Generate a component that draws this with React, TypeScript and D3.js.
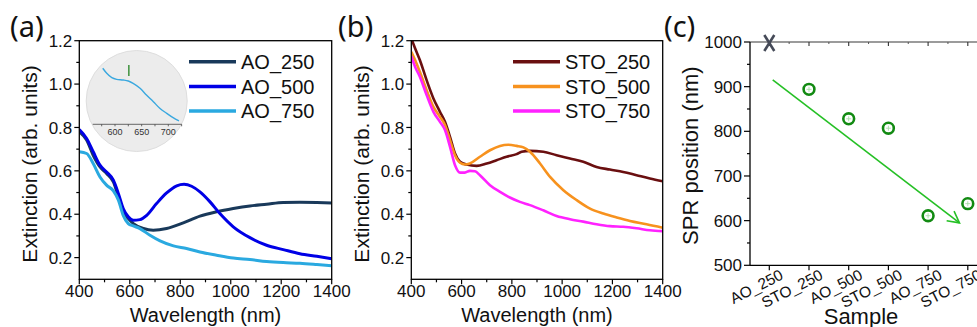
import React from 'react';
import * as d3 from 'd3';

const FONT = '"Liberation Sans", Arial, Helvetica, sans-serif';
const LABEL_FONT = '"Noto Sans", "Open Sans", sans-serif';

// ---------- Panel (a): AO samples ----------
const ao250Nm = [400, 429, 455, 482, 508, 535, 555, 574, 594, 614, 654, 693, 746, 812, 878, 944, 1010, 1076, 1142, 1208, 1274, 1341, 1400];
const ao250Ext = [0.78, 0.742, 0.672, 0.618, 0.588, 0.549, 0.48, 0.411, 0.38, 0.357, 0.334, 0.326, 0.334, 0.36, 0.391, 0.411, 0.426, 0.438, 0.446, 0.454, 0.455, 0.454, 0.452];

const ao500Nm = [400, 429, 455, 482, 508, 535, 555, 574, 594, 614, 640, 667, 706, 746, 786, 815, 845, 878, 918, 957, 1010, 1076, 1142, 1208, 1274, 1341, 1400];
const ao500Ext = [0.79, 0.749, 0.688, 0.626, 0.595, 0.557, 0.495, 0.426, 0.388, 0.372, 0.375, 0.395, 0.449, 0.498, 0.531, 0.538, 0.529, 0.503, 0.457, 0.403, 0.342, 0.292, 0.257, 0.237, 0.218, 0.206, 0.195];

const ao750Nm = [400, 429, 455, 482, 508, 535, 555, 574, 594, 614, 640, 680, 720, 773, 825, 878, 944, 1010, 1076, 1142, 1208, 1274, 1341, 1400];
const ao750Ext = [0.688, 0.68, 0.634, 0.572, 0.534, 0.508, 0.465, 0.395, 0.357, 0.346, 0.334, 0.303, 0.277, 0.254, 0.242, 0.226, 0.211, 0.198, 0.191, 0.182, 0.177, 0.174, 0.168, 0.162];

// Inset of panel (a)
const insetNm = [577, 584.5, 594, 603, 615.5, 625, 634, 647, 659, 672, 684, 697, 709, 720];
const insetExt = [0.3706, 0.3638, 0.3579, 0.3557, 0.3548, 0.3534, 0.3503, 0.3436, 0.3345, 0.3255, 0.3166, 0.3098, 0.3039, 0.2995];
const insetTickValues = [575, 600, 625, 650, 675, 700, 725];
const insetTickLabels = [600, 650, 700];
const insetMarkerNm = 626;

// ---------- Panel (b): STO samples ----------
const sto250Nm = [400, 415, 434, 461, 488, 514, 534, 554, 574, 594, 620, 660, 700, 739, 779, 819, 839, 872, 925, 978, 1031, 1084, 1137, 1190, 1243, 1296, 1349, 1400];
const sto250Ext = [1.21, 1.165, 1.111, 1.018, 0.934, 0.872, 0.826, 0.757, 0.68, 0.642, 0.629, 0.623, 0.634, 0.649, 0.665, 0.677, 0.688, 0.692, 0.688, 0.672, 0.657, 0.642, 0.618, 0.606, 0.595, 0.58, 0.565, 0.552];

const sto500Nm = [400, 415, 434, 461, 488, 514, 534, 554, 574, 594, 613, 633, 673, 713, 753, 786, 819, 846, 872, 912, 952, 1005, 1058, 1111, 1164, 1217, 1270, 1336, 1400];
const sto500Ext = [1.149, 1.111, 1.057, 0.972, 0.895, 0.849, 0.811, 0.742, 0.672, 0.637, 0.629, 0.634, 0.665, 0.695, 0.715, 0.72, 0.715, 0.708, 0.688, 0.634, 0.572, 0.511, 0.465, 0.426, 0.403, 0.385, 0.369, 0.354, 0.338];

const sto750Nm = [400, 415, 434, 461, 488, 514, 534, 554, 574, 594, 613, 633, 653, 673, 713, 753, 792, 832, 872, 925, 978, 1031, 1084, 1137, 1190, 1243, 1296, 1349, 1400];
const sto750Ext = [1.129, 1.08, 1.034, 0.949, 0.872, 0.826, 0.788, 0.711, 0.626, 0.592, 0.592, 0.6, 0.598, 0.58, 0.534, 0.503, 0.477, 0.457, 0.442, 0.418, 0.392, 0.377, 0.366, 0.354, 0.345, 0.342, 0.335, 0.326, 0.322];

// Axes for (a) & (b)
const extMajorTicks = [0.2, 0.4, 0.6, 0.8, 1.0, 1.2];
const extMinorTicks = [0.3, 0.5, 0.7, 0.9, 1.1];
const nmMajorTicks = [400, 600, 800, 1000, 1200, 1400];
const nmMinorTicks = [500, 700, 900, 1100, 1300];

// ---------- Panel (c) ----------
const samples = ['AO_250', 'STO_250', 'AO_500', 'STO_500', 'AO_750', 'STO_750'];
const sprPosition = [null, 894, 828, 807, 611, 638];
const sprOutOfRange = [1000, null, null, null, null, null];
const sprTicks = [500, 600, 700, 800, 900, 1000];
const sprMinorTicks = [550, 650, 750, 850, 950];
const trendArrow = [
  { i: 0.086, v: 915 },
  { i: 4.79, v: 595 },
];

const aoColors = ['#19395a', '#0000e6', '#2aa9e0'];
const stoColors = ['#6a0f10', '#f7921e', '#ff22ff'];

type Series = { name: string; nm: number[]; ext: number[]; color: string };

const aoSeries: Series[] = [
  { name: 'AO_250', nm: ao250Nm, ext: ao250Ext, color: aoColors[0] },
  { name: 'AO_500', nm: ao500Nm, ext: ao500Ext, color: aoColors[1] },
  { name: 'AO_750', nm: ao750Nm, ext: ao750Ext, color: aoColors[2] },
];
const stoSeries: Series[] = [
  { name: 'STO_250', nm: sto250Nm, ext: sto250Ext, color: stoColors[0] },
  { name: 'STO_500', nm: sto500Nm, ext: sto500Ext, color: stoColors[1] },
  { name: 'STO_750', nm: sto750Nm, ext: sto750Ext, color: stoColors[2] },
];

type PanelProps = {
  id: string;
  left: number;
  right: number;
  top: number;
  bottom: number;
  series: Series[];
  legendX: number;
  strokeW: number;
  label: string;
  labelX: number;
  yTitleX: number;
  inset?: boolean;
};

function Inset() {
  const cx = 136.7;
  const cy = 101;
  const r = 50.5;
  const x = d3.scaleLinear().domain([600, 700]).range([115, 168.3]);
  const y = d3.scaleLinear().domain([0.295, 0.39]).range([124.3, 53.9]);
  const line = d3
    .line<number>()
    .x((_, i) => x(insetNm[i]))
    .y((d) => y(d))
    .curve(d3.curveMonotoneX);
  const axisY = 124.3;
  return (
    <g>
      <circle cx={cx} cy={cy} r={r} fill="#ececec" stroke="#dedede" strokeWidth={1} />
      <line x1={92.7} x2={181.7} y1={axisY} y2={axisY} stroke="#444" strokeWidth={0.8} />
      {insetTickValues.map((t) => (
        <line key={t} x1={x(t)} x2={x(t)} y1={axisY} y2={axisY + 2} stroke="#444" strokeWidth={0.8} />
      ))}
      {insetTickLabels.map((t) => (
        <text key={t} x={x(t)} y={axisY + 11} fontSize={9} fill="#333" textAnchor="middle" fontFamily={FONT}>
          {t}
        </text>
      ))}
      <path d={line(insetExt) || ''} fill="none" stroke="#3aa8df" strokeWidth={1.4} />
      <line x1={x(insetMarkerNm)} x2={x(insetMarkerNm)} y1={65} y2={76} stroke="#2f8a2f" strokeWidth={1.4} />
    </g>
  );
}

function SpectrumPanel(p: PanelProps) {
  const x = d3.scaleLinear().domain([400, 1400]).range([p.left, p.right]);
  const y = d3.scaleLinear().domain([0.1, 1.2]).range([p.bottom, p.top]);
  const midX = (p.left + p.right) / 2;
  const midY = (p.top + p.bottom) / 2;
  return (
    <g>
      <defs>
        <clipPath id={p.id}>
          <rect x={p.left} y={p.top} width={p.right - p.left} height={p.bottom - p.top} />
        </clipPath>
      </defs>
      {p.inset && <Inset />}
      <g clipPath={`url(#${p.id})`}>
        {p.series.map((s) => {
          const line = d3
            .line<number>()
            .x((_, i) => x(s.nm[i]))
            .y((d) => y(d))
            .curve(d3.curveMonotoneX);
          return <path key={s.name} d={line(s.ext) || ''} fill="none" stroke={s.color} strokeWidth={p.strokeW} strokeLinejoin="round" />;
        })}
      </g>
      {/* frame */}
      <rect x={p.left} y={p.top} width={p.right - p.left} height={p.bottom - p.top} fill="none" stroke="#000" strokeWidth={1.3} />
      {/* y ticks */}
      {extMajorTicks.map((t) => (
        <g key={'ym' + t}>
          <line x1={p.left - 5} x2={p.left} y1={y(t)} y2={y(t)} stroke="#000" strokeWidth={1.2} />
          <text x={p.left - 7} y={y(t)} dy="0.36em" textAnchor="end" fontSize={17} fontFamily={FONT} fill="#111">
            {t.toFixed(1)}
          </text>
        </g>
      ))}
      {extMinorTicks.map((t) => (
        <line key={'yn' + t} x1={p.left - 3} x2={p.left} y1={y(t)} y2={y(t)} stroke="#000" strokeWidth={1.2} />
      ))}
      {nmMajorTicks.map((t) => (
        <g key={'xm' + t}>
          <line x1={x(t)} x2={x(t)} y1={p.bottom} y2={p.bottom + 5} stroke="#000" strokeWidth={1.2} />
          <text x={x(t)} y={297} textAnchor="middle" fontSize={17} fontFamily={FONT} fill="#111">
            {t}
          </text>
        </g>
      ))}
      {nmMinorTicks.map((t) => (
        <line key={'xn' + t} x1={x(t)} x2={x(t)} y1={p.bottom} y2={p.bottom + 3} stroke="#000" strokeWidth={1.2} />
      ))}
      {/* titles */}
      <text x={midX} y={322} textAnchor="middle" fontSize={20} fontFamily={FONT} fill="#111">
        Wavelength (nm)
      </text>
      <text
        transform={`translate(${p.yTitleX},${midY + 4}) rotate(-90)`}
        textAnchor="middle"
        fontSize={21}
        fontFamily={FONT}
        fill="#111"
      >
        Extinction (arb. units)
      </text>
      {/* legend */}
      {p.series.map((s, i) => (
        <g key={'lg' + s.name}>
          <line x1={p.legendX} x2={p.legendX + 47} y1={61.7 + i * 24.7} y2={61.7 + i * 24.7} stroke={s.color} strokeWidth={3.5} />
          <text x={p.legendX + 52} y={61.7 + i * 24.7 + 7.3} fontSize={20} fontFamily={FONT} fill="#111">
            {s.name}
          </text>
        </g>
      ))}
      <text x={p.labelX} y={37} fontSize={29} fontFamily={LABEL_FONT} fill="#111">
        {p.label}
      </text>
    </g>
  );
}

function SprPanel() {
  const left = 750;
  const right = 977;
  const x = d3.scaleLinear().domain([0, 5]).range([769.3, 967.8]);
  const y = d3.scaleLinear().domain([500, 1000]).range([265.3, 42]);
  const bottom = y(500);
  const top = y(1000);
  const halfSteps = [0.5, 1.5, 2.5, 3.5, 4.5];
  const a0 = trendArrow[0];
  const a1 = trendArrow[1];
  const x0 = x(a0.i);
  const y0 = y(a0.v);
  const x1 = x(a1.i);
  const y1 = y(a1.v);
  const ang = Math.atan2(y1 - y0, x1 - x0);
  const headLen = 13;
  const spread = (28 * Math.PI) / 180;
  const h1 = [x1 - headLen * Math.cos(ang - spread), y1 - headLen * Math.sin(ang - spread)];
  const h2 = [x1 - headLen * Math.cos(ang + spread), y1 - headLen * Math.sin(ang + spread)];
  return (
    <g>
      {/* top grey line */}
      <line x1={left} x2={right} y1={top} y2={top} stroke="#7a7a7a" strokeWidth={1.6} />
      {samples.map((_, i) => (
        <line key={'tt' + i} x1={x(i)} x2={x(i)} y1={top} y2={top + 4} stroke="#333" strokeWidth={1.1} />
      ))}
      {halfSteps.map((h) => (
        <line key={'th' + h} x1={x(h)} x2={x(h)} y1={top} y2={top + 2} stroke="#555" strokeWidth={1} />
      ))}
      {/* left axis */}
      <line x1={left} x2={left} y1={top} y2={bottom} stroke="#000" strokeWidth={1.3} />
      {sprTicks.map((t) => (
        <g key={'s' + t}>
          <line x1={left - 6} x2={left} y1={y(t)} y2={y(t)} stroke="#000" strokeWidth={1.2} />
          <text x={left - 8} y={y(t)} dy="0.36em" textAnchor="end" fontSize={17} fontFamily={FONT} fill="#111">
            {t}
          </text>
        </g>
      ))}
      {sprMinorTicks.map((t) => (
        <line key={'sm' + t} x1={left - 3} x2={left} y1={y(t)} y2={y(t)} stroke="#000" strokeWidth={1.2} />
      ))}
      {/* bottom axis */}
      <line x1={left} x2={right} y1={bottom} y2={bottom} stroke="#000" strokeWidth={1.3} />
      {samples.map((s, i) => (
        <g key={'b' + s}>
          <line x1={x(i)} x2={x(i)} y1={bottom} y2={bottom + 5} stroke="#000" strokeWidth={1.2} />
          <text
            transform={`translate(${x(i) + 15},${bottom + 13}) rotate(-27)`}
            textAnchor="end"
            fontSize={15.5}
            fontFamily={FONT}
            fill="#111"
          >
            {s}
          </text>
        </g>
      ))}
      {/* out of range marker */}
      {sprOutOfRange.map((v, i) =>
        v == null ? null : (
          <g key={'x' + i} stroke="#454a58" strokeWidth={2.6} strokeLinecap="butt">
            <line x1={x(i) - 5} x2={x(i) + 5} y1={y(v) - 7} y2={y(v) + 9} />
            <line x1={x(i) + 5} x2={x(i) - 5} y1={y(v) - 7} y2={y(v) + 9} />
          </g>
        )
      )}
      {/* arrow */}
      <line x1={x0} y1={y0} x2={x1} y2={y1} stroke="#25c025" strokeWidth={1.6} />
      <polyline points={`${h1[0]},${h1[1]} ${x1},${y1} ${h2[0]},${h2[1]}`} fill="none" stroke="#25c025" strokeWidth={1.6} />
      {/* points */}
      {sprPosition.map((v, i) =>
        v == null ? null : (
          <g key={'p' + i}>
            <circle cx={x(i)} cy={y(v)} r={5.4} fill="none" stroke="#128a12" strokeWidth={2.6} />
            <line x1={x(i) - 2.5} x2={x(i) + 2.5} y1={y(v)} y2={y(v)} stroke="#a6dca6" strokeWidth={0.9} />
            <line x1={x(i)} x2={x(i)} y1={y(v) - 2.5} y2={y(v) + 2.5} stroke="#a6dca6" strokeWidth={0.9} />
          </g>
        )
      )}
      <text transform={`translate(698,${(top + bottom) / 2 + 2}) rotate(-90)`} textAnchor="middle" fontSize={22} fontFamily={FONT} fill="#111">
        SPR position (nm)
      </text>
      <text x={861} y={324} textAnchor="middle" fontSize={22} fontFamily={FONT} fill="#111">
        Sample
      </text>
      <text x={664} y={37} fontSize={29} fontFamily={LABEL_FONT} fill="#111">
        (c)
      </text>
    </g>
  );
}

export default function App() {
  return (
    <svg
      width={977}
      height={327}
      viewBox="0 0 977 327"
      style={{ position: 'absolute', left: 0, top: 0, background: '#fff', display: 'block' }}
    >
      <rect x={0} y={0} width={977} height={327} fill="#fff" />
      <SpectrumPanel
        id="clipA"
        left={79.3}
        right={331.7}
        top={40.7}
        bottom={279.3}
        series={aoSeries}
        legendX={189}
        strokeW={3}
        label="(a)"
        labelX={10}
        yTitleX={37}
        inset
      />
      <SpectrumPanel
        id="clipB"
        left={411.3}
        right={662.7}
        top={40.7}
        bottom={279.3}
        series={stoSeries}
        legendX={513}
        strokeW={2.6}
        label="(b)"
        labelX={338}
        yTitleX={369}
      />
      <SprPanel />
    </svg>
  );
}
